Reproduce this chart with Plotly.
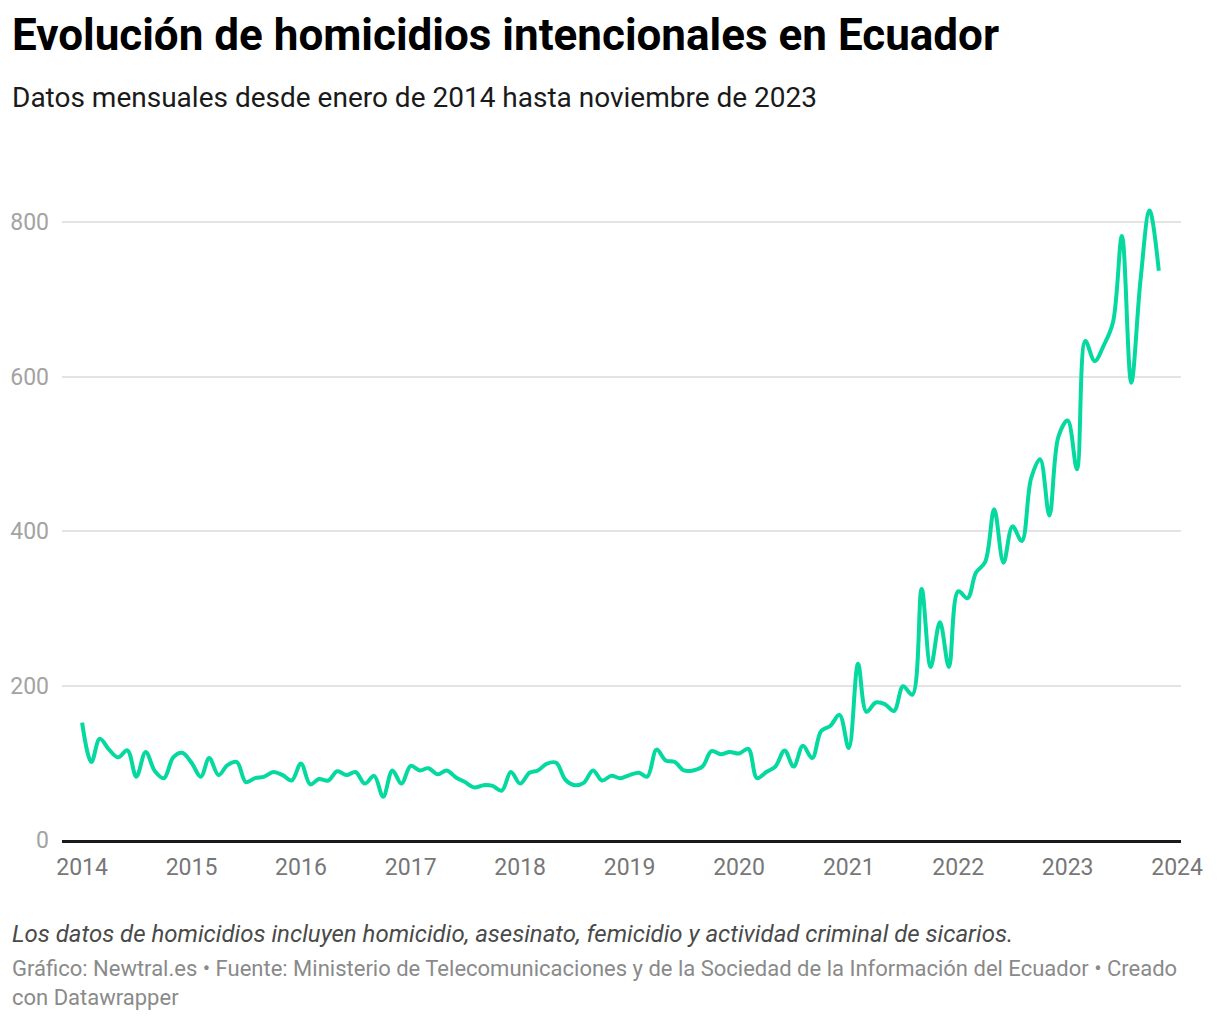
import plotly.graph_objects as go
import pandas as pd

# Monthly intentional homicides in Ecuador, Jan 2014 - Nov 2023
months = pd.date_range("2014-01-01", "2023-11-01", freq="MS")
homicidios = [
    152, 101, 131, 117, 107, 116, 82, 114, 89, 80, 107, 113,   # 2014
    100, 82, 106, 84, 97, 101, 75, 80, 82, 88, 84, 77,         # 2015
    99, 72, 79, 77, 89, 84, 88, 73, 83, 56, 90, 73,            # 2016
    96, 90, 93, 85, 90, 81, 75, 68, 71, 70, 64, 88,            # 2017
    73, 87, 90, 99, 100, 78, 71, 74, 90, 77, 83, 80,           # 2018
    84, 87, 82, 117, 103, 101, 90, 90, 95, 115, 111, 114,      # 2019
    112, 118, 80, 88, 95, 116, 95, 122, 106, 141, 148, 162,    # 2020
    119, 228, 166, 178, 176, 167, 199, 188, 325, 224, 282, 224, # 2021
    322, 313, 346, 360, 428, 359, 406, 387, 468, 493, 420, 522, # 2022
    543, 480, 646, 620, 640, 670, 782, 592, 725, 815, 737,      # 2023
]

year_ticks = [f"{y}-01-01" for y in range(2014, 2025)]
year_labels = [str(y) for y in range(2014, 2025)]
y_ticks = [0, 200, 400, 600, 800]

title = "Evolución de homicidios intencionales en Ecuador"
subtitle = "Datos mensuales desde enero de 2014 hasta noviembre de 2023"
note = "Los datos de homicidios incluyen homicidio, asesinato, femicidio y actividad criminal de sicarios."
footer = ("Gráfico: Newtral.es • Fuente: Ministerio de Telecomunicaciones y de la Sociedad de la "
          "Información del Ecuador • Creado<br>con Datawrapper")

FONT = "Roboto"
W, H = 1220, 1020
OFF = 8  # page body margin
PL, PR, PT, PB = 62 - OFF, 1181 - OFF, 180 - OFF, 840 - OFF  # plot area in figure pixels


def px_x(x):
    return (x - OFF - PL) / (PR - PL)


def px_y(y):
    return (PB - (y - OFF)) / (PB - PT)


fig = go.Figure()
fig.add_trace(go.Scatter(
    x=months, y=homicidios, mode="lines",
    line=dict(color="#05d9a0", width=4, shape="spline", smoothing=1.0),
    hoverinfo="x+y", showlegend=False,
))

fig.update_layout(
    width=W, height=H,
    paper_bgcolor="white", plot_bgcolor="white",
    margin=dict(l=PL, r=W - PR, t=PT, b=H - PB, autoexpand=False),
    font=dict(family=FONT),
    xaxis=dict(
        type="date", automargin=False,
        range=["2013-10-26", "2024-01-14"],
        tickvals=year_ticks, ticktext=year_labels,
        tickfont=dict(family=FONT, size=23, color="#777777"),
        showgrid=False, zeroline=False,
        showline=True, linecolor="#1a1a1a", linewidth=2.5,
        ticks="", ticklabelstandoff=5,
    ),
    yaxis=dict(
        automargin=False,
        range=[0, (PB - PT) / 0.7725],
        tickvals=y_ticks,
        tickfont=dict(family=FONT, size=23, color="#a3a3a3"),
        showgrid=True, gridcolor="#e3e3e3", gridwidth=1.5,
        zeroline=False, showline=False, ticks="", ticklabelstandoff=12,
    ),
    annotations=[
        dict(text=f"<b>{title}</b>", xref="paper", yref="paper",
             x=px_x(10), y=px_y(35), xanchor="left", yanchor="middle",
             showarrow=False, font=dict(family=FONT, size=44, color="#000000")),
        dict(text=subtitle, xref="paper", yref="paper",
             x=px_x(10), y=px_y(97), xanchor="left", yanchor="middle",
             showarrow=False, font=dict(family=FONT, size=28, color="#1a1a1a")),
        dict(text=f"<i>{note}</i>", xref="paper", yref="paper",
             x=px_x(10), y=px_y(934), xanchor="left", yanchor="middle",
             showarrow=False, font=dict(family=FONT, size=24, color="#4a4a4a")),
        dict(text=footer, xref="paper", yref="paper", align="left",
             x=px_x(10), y=px_y(983), xanchor="left", yanchor="middle",
             showarrow=False, font=dict(family=FONT, size=22, color="#8a8a8a")),
    ],
)

fig.write_html("out.html")
